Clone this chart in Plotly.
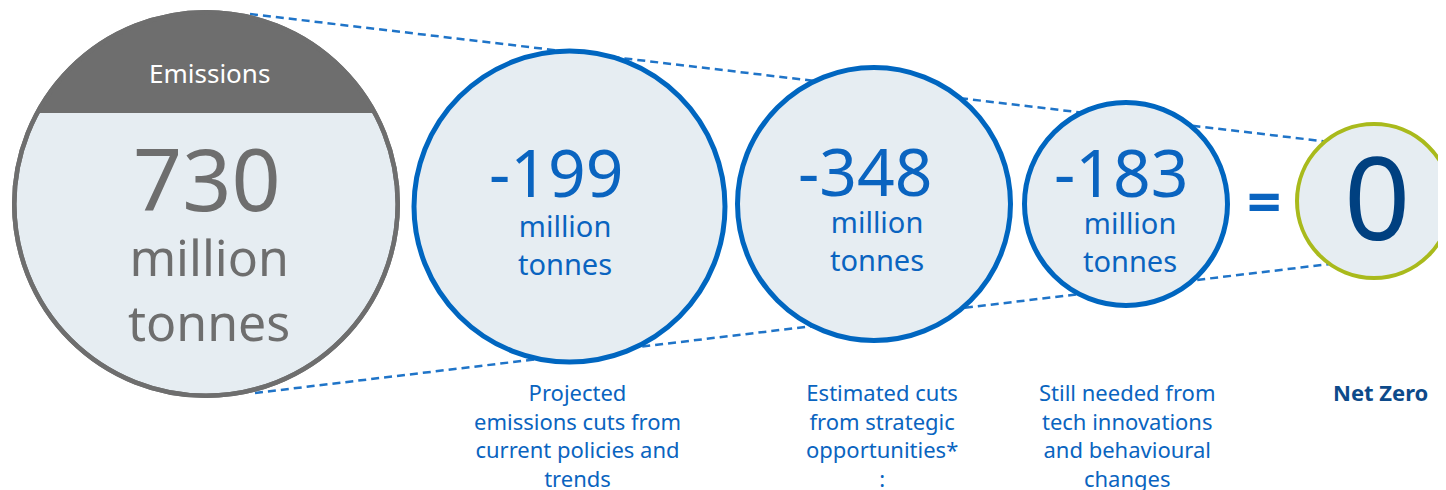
import numpy as np
import plotly.graph_objects as go

# data
header = "Emissions"
values = [730, -199, -348, -183, 0]
unit_text = "million<br>tonnes"
captions = ["Projected<br>emissions cuts from<br>current policies and<br>trends",
            "Estimated cuts<br>from strategic<br>opportunities*<br>:",
            "Still needed from<br>tech innovations<br>and behavioural<br>changes",
            "<b>Net Zero</b>"]

# layout of the bubbles (pixels, y down)
cx = [206, 569.5, 874, 1126, 1374]
cy = [204, 206.5, 204, 204, 201]
rad = [194, 158, 139, 104, 79]
lw = [4.5, 5, 5, 5, 4]
edge = ['#6e6e6e', '#0066c0', '#0066c0', '#0066c0', '#a9ba1c']
fill = '#e6edf2'
blue = '#0a64c0'
font = 'Noto Sans'

W, H = 1446, 490
PAD = 8  # page body margin
fig = go.Figure()
fig.add_trace(go.Scatter(x=[PAD, W], y=[PAD, H], mode='markers', marker_opacity=0, hoverinfo='skip', showlegend=False))

shapes = []
# dashed guide lines behind the circles
shapes.append(dict(type='line', x0=250, y0=14, x1=1330, y1=142, line=dict(color='#1f74c8', width=2.5, dash='8px,5px')))
shapes.append(dict(type='line', x0=255, y0=393, x1=1330, y1=264, line=dict(color='#1f74c8', width=2.5, dash='8px,5px')))

for i in range(len(values)):
    r = rad[i] - lw[i] / 2
    shapes.append(dict(type='circle', x0=cx[i]-r, x1=cx[i]+r, y0=cy[i]-r, y1=cy[i]+r,
                       fillcolor=fill, line=dict(color=edge[i], width=lw[i])))

# dark cap on the emissions circle
r = rad[0] - lw[0] / 2
chord = 113
a = np.arcsin((cy[0] - chord) / r)
t = np.linspace(np.pi - a, a, 80)
px_ = cx[0] + r * np.cos(t)
py_ = cy[0] - r * np.sin(t)
path = 'M ' + ' L '.join(f'{x:.2f},{y:.2f}' for x, y in zip(px_, py_)) + ' Z'
shapes.append(dict(type='path', path=path, fillcolor='#6e6e6e', line=dict(width=0)))
shapes.append(dict(type='circle', x0=cx[0]-r, x1=cx[0]+r, y0=cy[0]-r, y1=cy[0]+r,
                   line=dict(color='#6e6e6e', width=lw[0])))

ann = []
def txt(x, y, s, size, color, yanchor='middle', **kw):
    ann.append(dict(x=x, y=y, text=s, showarrow=False, xanchor='center', yanchor=yanchor,
                    font=dict(family=font, size=size, color=color), **kw))

txt(209, 73, header, 26, 'white')
txt(207, 177, f'{values[0]}', 86, '#6e6e6e')
txt(209, 289, unit_text, 50, '#6e6e6e')

num_x = [556, 865, 1121]
num_y = [171, 170, 171]
unit_x = [565, 877, 1130]
unit_y = [244, 240, 241]
for k in range(3):
    txt(num_x[k], num_y[k], f'{values[k+1]}', 66, blue)
    txt(unit_x[k], unit_y[k], unit_text, 29, blue)

txt(1264, 200, '<b>=</b>', 60, blue)
txt(1377, 195, f'{values[4]}', 116, '#004080')

cap_x = [577, 882, 1127, 1380]
for k, c in enumerate(captions):
    txt(cap_x[k], 375, c, 22, '#0d4a8a' if k == 3 else blue, yanchor='top', align='center')

fig.update_layout(width=W - PAD, height=H - PAD, margin=dict(l=0, r=0, t=0, b=0),
                  plot_bgcolor='white', paper_bgcolor='white',
                  xaxis=dict(range=[PAD, W], visible=False, fixedrange=True),
                  yaxis=dict(range=[H, PAD], visible=False, fixedrange=True),
                  shapes=shapes, annotations=ann, showlegend=False)
fig.write_html("out.html")
